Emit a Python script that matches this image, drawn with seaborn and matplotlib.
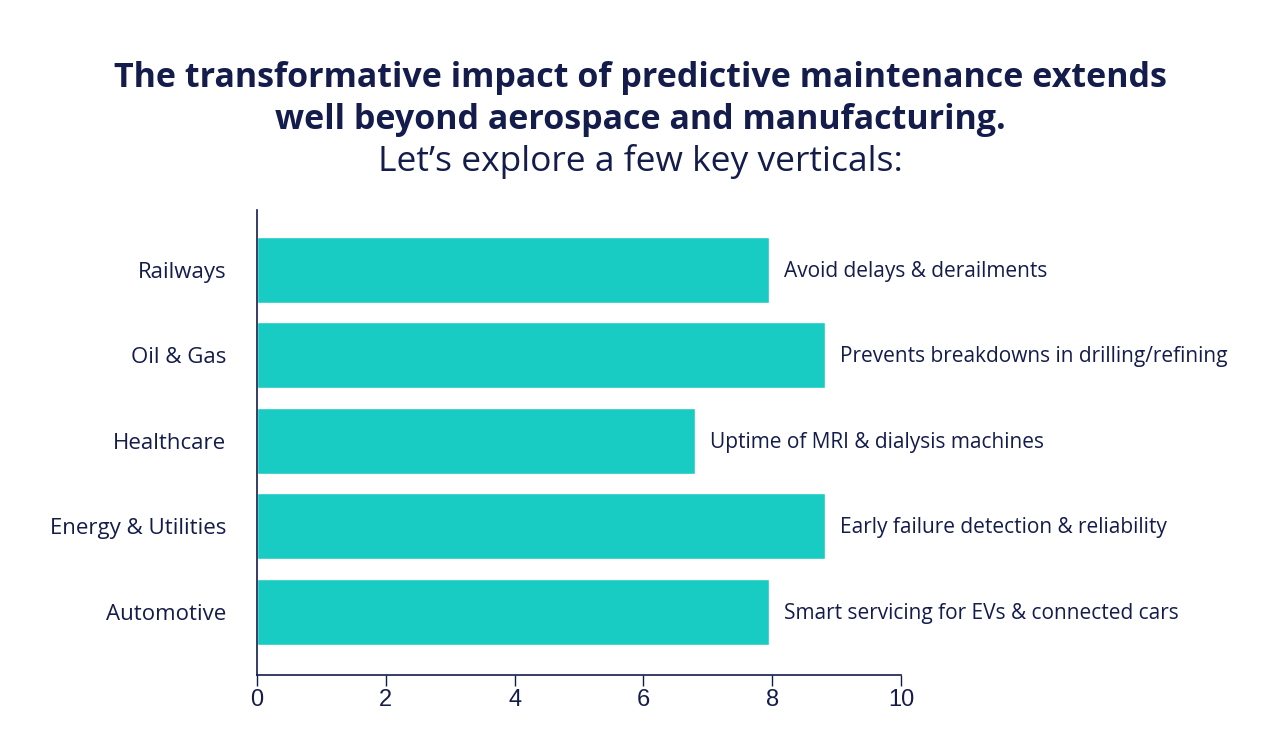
import matplotlib
matplotlib.use("Agg")
import matplotlib.pyplot as plt
import pandas as pd
import seaborn as sns

categories = ["Railways", "Oil & Gas", "Healthcare", "Energy & Utilities", "Automotive"]
scores = [7.95, 8.82, 6.8, 8.82, 7.95]
notes = [
    "Avoid delays & derailments",
    "Prevents breakdowns in drilling/refining",
    "Uptime of MRI & dialysis machines",
    "Early failure detection & reliability",
    "Smart servicing for EVs & connected cars",
]
x_ticks = [0, 2, 4, 6, 8, 10]

navy = "#141c4c"
teal = "#19ccc3"

sns.set_theme(style="white")
plt.rcParams['font.family'] = ['Open Sans', 'DejaVu Sans']

df = pd.DataFrame({"category": categories, "score": scores, "note": notes})

fig = plt.figure(figsize=(12.8, 7.52), dpi=100)
ax = fig.add_axes([0.2008, 0.1024, 0.5031, 0.6184])
sns.barplot(data=df, x="score", y="category", color=teal, width=0.77,
            saturation=1, ax=ax)

for i, row in df.iterrows():
    ax.text(row["score"] + 0.23, i + 0.02, row["note"], va="center", ha="left",
            fontsize=15, color=navy)

ax.set_xlim(0, 10)
ax.set_ylim(4.74, -0.70)
ax.set_xticks(x_ticks)
ax.set_xticklabels([str(t) for t in x_ticks], fontsize=17, color=navy,
                   family=['Liberation Sans Narrow', 'Liberation Sans', 'DejaVu Sans'])
ax.tick_params(axis="x", length=8, width=1, color=navy, direction="out", bottom=True, pad=2)
ax.tick_params(axis="y", length=0, pad=22, labelsize=16, labelcolor=navy)
ax.set_xlabel("")
ax.set_ylabel("")
for side in ["top", "right"]:
    ax.spines[side].set_visible(False)
for side in ["left", "bottom"]:
    ax.spines[side].set_color(navy)
    ax.spines[side].set_linewidth(1.2)

fig.text(0.5, 0.896, "The transformative impact of predictive maintenance extends",
         ha="center", va="center", fontsize=24.5, fontweight="bold", color=navy)
fig.text(0.5, 0.841, "well beyond aerospace and manufacturing.",
         ha="center", va="center", fontsize=24.5, fontweight="bold", color=navy)
fig.text(0.5, 0.785, "Let\u2019s explore a few key verticals:",
         ha="center", va="center", fontsize=25.5, color=navy)

fig.savefig("out.png", dpi=100, facecolor="white")
